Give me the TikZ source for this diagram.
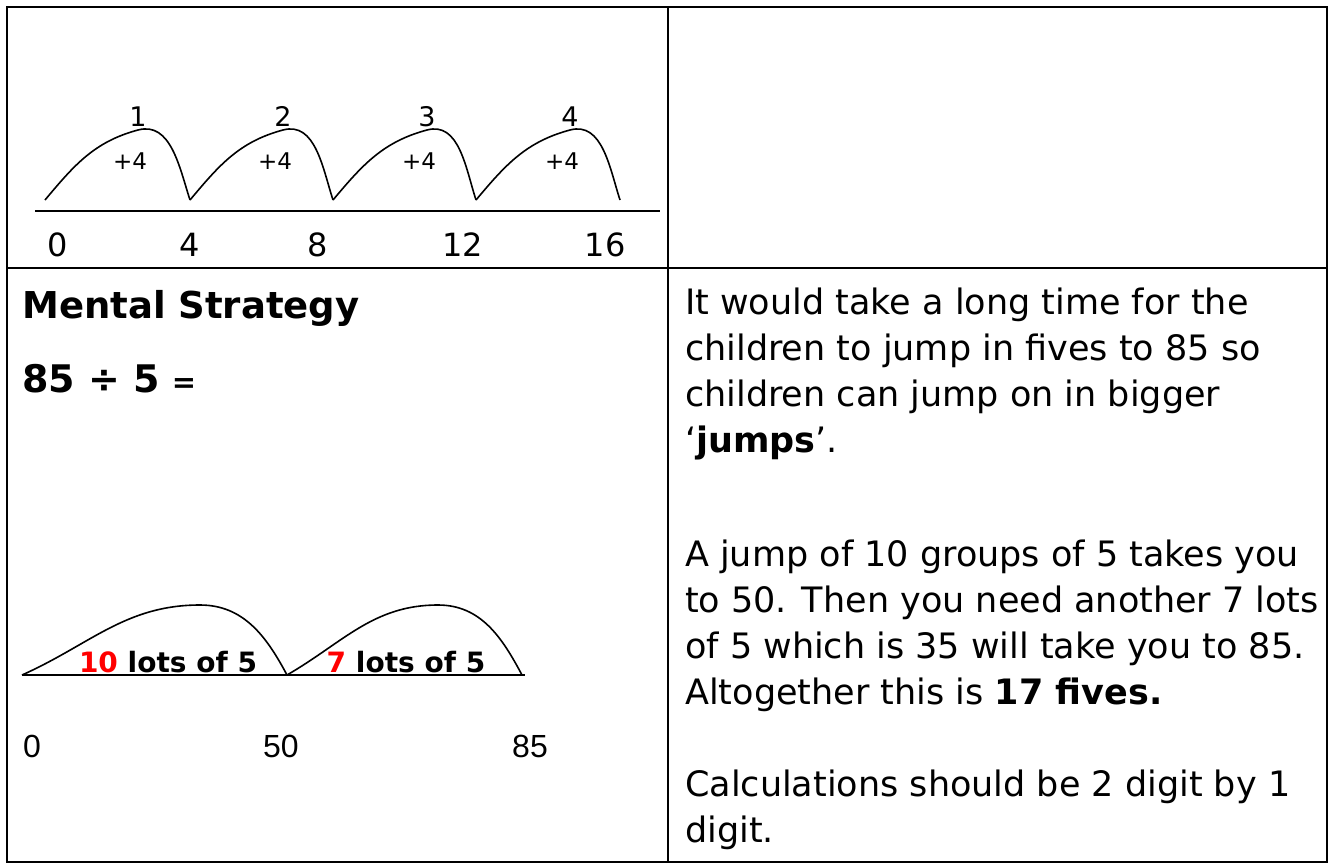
\documentclass[tikz,border=0pt]{standalone}
\usepackage{fontspec}
\setmainfont{DejaVu Sans}
\newfontfamily\arialfont{Liberation Sans}
\definecolor{lotred}{RGB}{255,0,0}
\tikzset{
  rule/.style={line width=2pt},
  jump/.style={line width=1.6pt},
  txt/.style={anchor=base west, inner sep=0pt, font=\fontsize{35}{46}\selectfont},
}

\begin{document}
\begin{tikzpicture}[x=1pt, y=-1pt, every node/.style={inner sep=0pt}]
  \useasboundingbox (0,0) rectangle (1330,864);

  % table
  \draw[rule] (7,7) rectangle (1327,862);
  \draw[rule] (668,7) -- (668,862);
  \draw[rule] (7,268) -- (1327,268);

  % jumps of four
  \draw[rule] (35,211) -- (660,211);
  \foreach \i/\x in {0/45, 1/190, 2/333, 3/476, 4/620}
    \coordinate (p\i) at (\x,200);
  \foreach \i/\j/\x in {0/1/138, 1/2/283, 2/3/427, 3/4/570} {
    \coordinate (t\j) at (\x,130);
    \draw[jump] (p\i) to[out=50, in=195] (t\j) to[out=15, in=108] (p\j);
    \node[anchor=base, font=\fontsize{27}{30}\selectfont] (c\j) at (\x,127) {\j};
    \node[anchor=base, font=\fontsize{23}{26}\selectfont] (a\j) at (\x-8,169) {+4};
  }
  \foreach \n/\x in {0/58, 4/190, 8/318, 12/463, 16/605}
    \node[anchor=base, font=\fontsize{32}{36}\selectfont] (v\n) at (\x,256) {\n};

  % mental strategy
  \node[anchor=base west, font=\fontsize{37}{40}\selectfont\bfseries] (head) at (22,318) {Mental Strategy};
  \node[anchor=base west, font=\fontsize{38}{40}\selectfont] (sum) at (22,392) {\textbf{85 ÷ 5} {\fontsize{29}{30}\selectfont\bfseries =}};

  \draw[jump] (22,675) -- (525,675);
  \coordinate (q0) at (22,675);
  \coordinate (q1) at (287,675);
  \coordinate (q2) at (522,675);
  \coordinate (r1) at (200,605);
  \coordinate (r2) at (438,605);
  \draw[jump] (q0) to[out=24, in=180] (r1) to[out=0, in=118] (q1);
  \draw[jump] (q1) to[out=30, in=180] (r2) to[out=0, in=118] (q2);
  \node[anchor=base, font=\fontsize{28}{30}\selectfont\bfseries] (lot1) at (168,672) {\textcolor{lotred}{10} lots of 5};
  \node[anchor=base, font=\fontsize{28}{30}\selectfont\bfseries] (lot2) at (406,672) {\textcolor{lotred}{7} lots of 5};
  \foreach \n/\x in {0/32, 50/281, 85/530}
    \node[anchor=base, font=\fontsize{32}{34}\selectfont\arialfont] (w\n) at (\x,757) {\n};

  % explanation
  \node[txt] (e1) at (685,314) {It would take a long time for the};
  \node[txt] (e2) at (685,360) {children to jump in fives to 85 so};
  \node[txt] (e3) at (685,406) {children can jump on in bigger};
  \node[txt] (e4) at (685,452) {‘\textbf{jumps}’.};
  \node[txt] (e5) at (685,566) {A jump of 10 groups of 5 takes you};
  \node[txt] (e6) at (685,612) {to 50. Then you need another 7 lots};
  \node[txt] (e7) at (685,658) {of 5 which is 35 will take you to 85.};
  \node[txt] (e8) at (685,704) {Altogether this is \textbf{17 fives.}};
  \node[txt] (e9) at (685,796) {Calculations should be 2 digit by 1};
  \node[txt] (e10) at (685,842) {digit.};
\end{tikzpicture}
\end{document}
